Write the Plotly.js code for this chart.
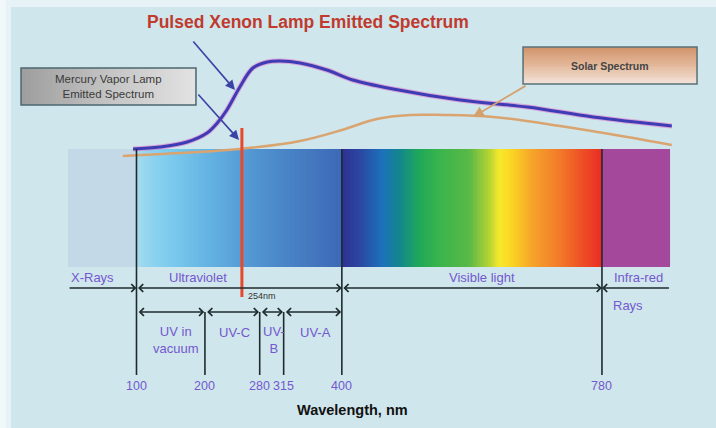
<!DOCTYPE html>
<html>
<head>
<meta charset="utf-8">
<script src="https://cdn.plot.ly/plotly-3.0.1.min.js"></script>
<style>html,body{margin:0;padding:0;background:#e6f2f6;}#chart{width:716px;height:428px;}</style>
</head>
<body>
<div id="chart"></div>
<script>
// ---- data (x: wavelength in nm, y: relative level in screen units, 0 = top) ----
const wavelengthTicks = [100, 200, 280, 315, 400, 780];
const regionBounds = [0, 100, 400, 780, 880];
const regionNames = ['X-Rays', 'Ultraviolet', 'Visible light', 'Infra-red'];
const uvBounds = [100, 200, 280, 315, 400];
const uvNames = ['UV in<br>vacuum', 'UV-C', 'UV-<br>B', 'UV-A'];
const mercuryLineNm = 254;
const xenonNm    = [95, 134, 174, 203, 218, 232, 251, 270, 291, 310, 339, 378, 416, 475, 573, 671, 767, 882];
const xenonLevel = [149, 147, 142, 133, 123, 110, 87, 68, 62, 61, 63, 70, 80, 89, 100, 107, 117, 126];
const solarNm    = [80, 164, 251, 339, 400, 451, 500, 548, 621, 719, 817, 882];
const solarLevel = [156, 153, 149, 141, 130, 119, 115, 115, 117, 126, 137, 145];

const FONT = 'Liberation Sans, Arial, Helvetica, sans-serif';
const LABEL = '#7458cf';
const LINE = '#1e2b2d';

// ---- spectrum band colour ramp (heatmap) ----
const bandTop = 149, bandBottom = 267;
const step = 2;
const bandEdges = [], bandZ = [];
for (let v = regionBounds[0]; v <= regionBounds[4]; v += step) bandEdges.push(v);
const zRow = [];
for (let i = 0; i < bandEdges.length - 1; i++) zRow.push((bandEdges[i] + bandEdges[i + 1]) / 2);
bandZ.push(zRow);
const zMax = regionBounds[4];
const bandScale = [
  [0, '#c3d9e7'], [99.5 / zMax, '#c3d9e7'],
  [100.5 / zMax, '#a6dbed'], [118 / zMax, '#92d4ef'], [148 / zMax, '#7ccbee'],
  [193 / zMax, '#68b8e5'], [250 / zMax, '#569ed7'], [313 / zMax, '#4a86c8'], [399.2 / zMax, '#3d69b6'],
  [400.8 / zMax, '#2e3192'], [425 / zMax, '#2b45a0'], [458.5 / zMax, '#1d70bc'], [483.6 / zMax, '#13858f'],
  [512.9 / zMax, '#1fa85a'], [546.7 / zMax, '#3db54a'], [586.2 / zMax, '#58b947'], [615.8 / zMax, '#b5d334'],
  [630.3 / zMax, '#f7ea2a'], [649.3 / zMax, '#fbd324'], [678.9 / zMax, '#f6a32a'], [718.4 / zMax, '#f27a2a'],
  [747.7 / zMax, '#ee5426'], [779.2 / zMax, '#ea2d24'],
  [780.8 / zMax, '#a3489a'], [1, '#a3489a']
];

function ramp(x0, x1, y0, y1, n, vertical, scale) {
  const xs = [], ys = [], row = [];
  let z;
  if (vertical) {
    xs.push(x0, x1);
    for (let i = 0; i <= n; i++) ys.push(y0 + (y1 - y0) * i / n);
    z = [];
    for (let i = 0; i < n; i++) z.push([i]);
  } else {
    ys.push(y0, y1);
    for (let i = 0; i <= n; i++) xs.push(x0 + (x1 - x0) * i / n);
    for (let i = 0; i < n; i++) row.push(i);
    z = [row];
  }
  return {type: 'heatmap', x: xs, y: ys, z: z, zmin: 0, zmax: n - 1, colorscale: scale,
          showscale: false, hoverinfo: 'skip', zsmooth: false};
}

const traces = [
  {type: 'heatmap', x: bandEdges, y: [bandTop, bandBottom], z: bandZ, zmin: 0, zmax: zMax,
   colorscale: bandScale, showscale: false, hoverinfo: 'skip', zsmooth: false},
  // Mercury label box (grey gradient)
  ramp(-68.7, 186.9, 68, 105, 40, false, [[0, '#9e9e9e'], [0.5, '#c4c4c4'], [1, '#e2e2e2']]),
  // Solar label box (tan gradient)
  ramp(664.7, 918.9, 47, 84, 20, true, [[0, '#d2946c'], [0.5, '#e3b99c'], [1, '#f3e1d7']]),
  {type: 'scatter', mode: 'lines', x: solarNm, y: solarLevel, hoverinfo: 'skip',
   line: {color: '#d9a46f', width: 2.5, shape: 'spline', smoothing: 1}},
  {type: 'scatter', mode: 'lines', x: xenonNm, y: xenonLevel, hoverinfo: 'skip',
   line: {color: 'rgba(225,110,200,0.55)', width: 5, shape: 'spline', smoothing: 1}},
  {type: 'scatter', mode: 'lines', x: xenonNm, y: xenonLevel, hoverinfo: 'skip',
   line: {color: '#3e3cb4', width: 3, shape: 'spline', smoothing: 1}}
];

// ---- shapes ----
const shapes = [
  {type: 'rect', xref: 'paper', yref: 'paper', x0: 11 / 716, x1: 1, y0: 0, y1: 1 - 7 / 428,
   fillcolor: '#cfe6ec', line: {width: 0}, layer: 'below'},
  {type: 'rect', xref: 'paper', yref: 'paper', x0: 0, x1: 6 / 716, y0: 0, y1: 1,
   fillcolor: '#f1f8fa', line: {width: 0}, layer: 'below'},
  {type: 'rect', x0: -68.7, x1: 186.9, y0: 68, y1: 105, line: {color: '#4d6670', width: 1.5}, layer: 'above'},
  {type: 'rect', x0: 664.7, x1: 918.9, y0: 47, y1: 84, line: {color: '#587078', width: 1.5}, layer: 'above'}
];
[regionBounds[1], regionBounds[2], regionBounds[3]].forEach(v => {
  shapes.push({type: 'line', x0: v, x1: v, y0: bandTop, y1: 375, line: {color: LINE, width: 1.6}, layer: 'above'});
});
uvBounds.slice(1, 4).forEach(v => {
  shapes.push({type: 'line', x0: v, x1: v, y0: 312, y1: 375, line: {color: LINE, width: 1.6}, layer: 'above'});
});
shapes.push({type: 'line', x0: mercuryLineNm, x1: mercuryLineNm, y0: 128, y1: 297,
             line: {color: '#e8482b', width: 3}, layer: 'above'});

// ---- annotations ----
const ann = [];
function arrow(xHead, xTail, y, both) {
  ann.push({x: xHead, y: y, ax: xTail, ay: y, axref: 'x', ayref: 'y', xref: 'x', yref: 'y', text: '',
            showarrow: true, arrowhead: 4, startarrowhead: 4, arrowsize: 1.1, startarrowsize: 1.1,
            arrowwidth: 1.4, arrowcolor: LINE, arrowside: both ? 'end+start' : 'end', standoff: 0, startstandoff: 0});
}
arrow(regionBounds[1], regionBounds[0], 288, false);
arrow(regionBounds[2], regionBounds[1], 288, true);
arrow(regionBounds[3], regionBounds[2], 288, true);
arrow(regionBounds[3], regionBounds[4], 288, false);
for (let i = 0; i < 4; i++) arrow(uvBounds[i + 1] - 1, uvBounds[i] + 1, 312, true);

function label(text, x, y, size, color, extra) {
  ann.push(Object.assign({x: x, y: y, xref: 'x', yref: 'y', text: text, showarrow: false,
    font: {family: FONT, size: size, color: color}, xanchor: 'center', yanchor: 'middle'}, extra || {}));
}
const regionLabelX = [35, 190, 605, 833];
regionNames.forEach((n, i) => label(n, regionLabelX[i], 277, 13, LABEL));
label('Rays', 818, 305, 13, LABEL);
const uvLabelX = [157.7, 242.5, 300.9, 360.8];
const uvLabelY = [340, 332, 340, 332];
uvNames.forEach((n, i) => label(n, uvLabelX[i], uvLabelY[i], 13, LABEL));
wavelengthTicks.forEach(v => label(String(v), v, 386, 12.5, LABEL));
label('254nm', 283, 296, 9, '#333333');
label('<b>Wavelength, nm</b>', 415, 410, 14.5, '#111111');
label('<b>Pulsed Xenon Lamp Emitted Spectrum</b>', 350, 22, 17.5, '#c03a2e');
label('Mercury Vapor Lamp<br>Emitted Spectrum', 58.4, 86.5, 11.5, '#3a3a3a');
label('<b>Solar Spectrum</b>', 791.8, 65.5, 10.5, '#454545');

// pointer arrows
ann.push({x: 243.9, y: 90, ax: 181.1, ay: 40, axref: 'x', ayref: 'y', xref: 'x', yref: 'y', text: '',
          showarrow: true, arrowhead: 2, arrowsize: 1.2, arrowwidth: 1.6, arrowcolor: '#3b43a6', standoff: 0});
ann.push({x: 249.8, y: 140, ax: 188.4, ay: 93, axref: 'x', ayref: 'y', xref: 'x', yref: 'y', text: '',
          showarrow: true, arrowhead: 2, arrowsize: 1.2, arrowwidth: 1.6, arrowcolor: '#3b43a6', standoff: 0});
ann.push({x: 591.6, y: 117, ax: 670.5, ay: 85, axref: 'x', ayref: 'y', xref: 'x', yref: 'y', text: '',
          showarrow: true, arrowhead: 2, arrowsize: 1.2, arrowwidth: 1.8, arrowcolor: '#d4a06c', standoff: 0});

const layout = {
  width: 716, height: 428,
  margin: {l: 0, r: 0, t: 0, b: 0},
  paper_bgcolor: '#e6f2f6', plot_bgcolor: 'rgba(0,0,0,0)',
  showlegend: false,
  xaxis: {range: [-99.4, 946.6], visible: false, fixedrange: true},
  yaxis: {range: [428, 0], visible: false, fixedrange: true},
  shapes: shapes, annotations: ann
};
Plotly.newPlot('chart', traces, layout, {staticPlot: true, displayModeBar: false});
</script>
</body>
</html>
